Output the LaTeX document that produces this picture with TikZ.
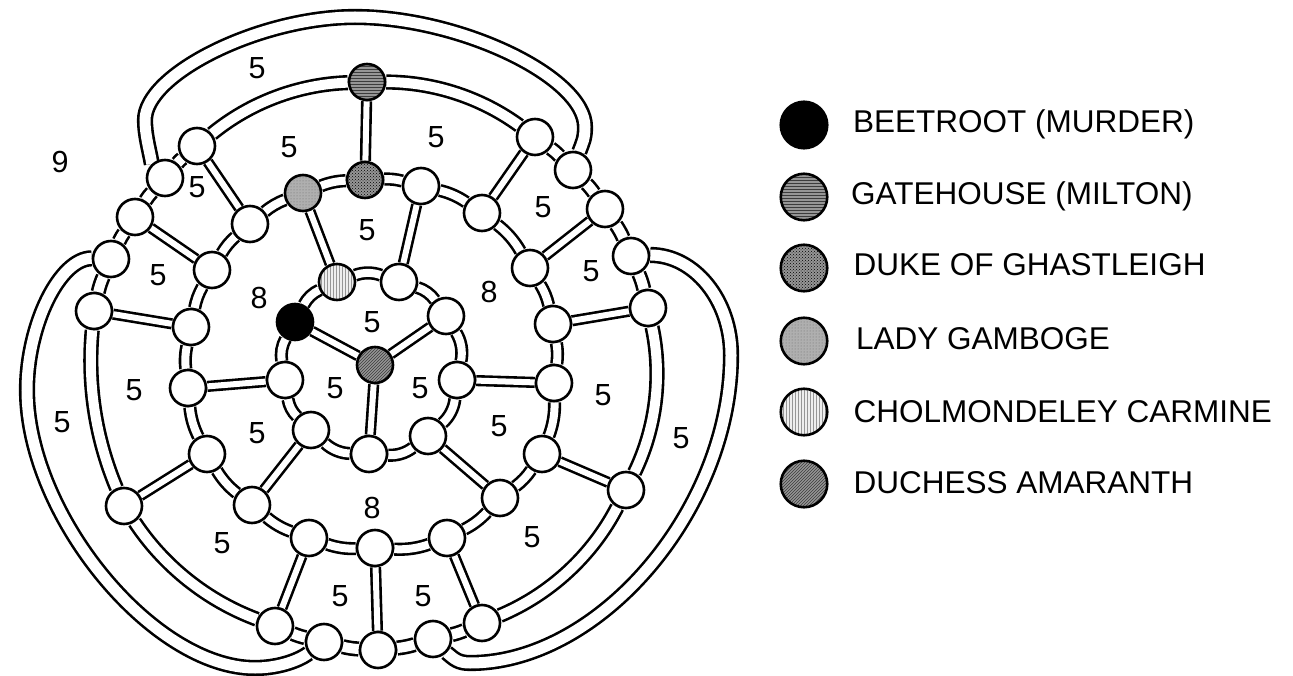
\documentclass[tikz,border=0pt]{standalone}
\usepackage{fontspec}
\setmainfont{Liberation Sans}
\usetikzlibrary{backgrounds,patterns}
\definecolor{cGate}{RGB}{150,150,150}
\definecolor{cGateL}{RGB}{60,60,60}
\definecolor{cDuke}{RGB}{150,150,150}
\definecolor{cLady}{RGB}{175,175,175}
\definecolor{cLadyL}{RGB}{110,110,110}
\definecolor{cChol}{RGB}{238,238,238}
\definecolor{cCholL}{RGB}{150,150,150}
\definecolor{cDuch}{RGB}{150,150,150}
\definecolor{cDuchL}{RGB}{60,60,60}
\begin{document}
\begin{tikzpicture}[x=1pt,y=1pt,
  vb/.style={circle,draw=black,line width=2.6pt,minimum size=36pt,inner sep=0pt},
  v/.style={vb,fill=white},
  lgb/.style={circle,draw=black,line width=2.6pt,minimum size=46.5pt,inner sep=0pt},
  gatef/.style={preaction={fill=cGate},pattern=horizontal lines,pattern color=cGateL},
  dukef/.style={preaction={fill=cDuke},pattern=crosshatch dots,pattern color=black},
  ladyf/.style={preaction={fill=cLady},pattern=dots,pattern color=cLadyL},
  cholf/.style={preaction={fill=cChol},pattern=vertical lines,pattern color=cCholL},
  duchf/.style={preaction={fill=cDuch},pattern=north east lines,pattern color=cDuchL},
  sp/.style={draw=black,line width=2.6pt,double=white,double distance=6pt},
  rg/.style={draw=black,line width=2.6pt,double=white,double distance=8pt,looseness=0.87},
  og/.style={draw=black,line width=2.6pt,double=white,double distance=10pt,looseness=0.87},
  lobe/.style={draw=black,line width=2.6pt,double=white,double distance=11pt},
  num/.style={font=\fontsize{30.5}{32}\selectfont,inner sep=0pt},
  leg/.style={font=\fontsize{31.5}{34}\selectfont,inner sep=0pt,anchor=base west}
]
\useasboundingbox (0,0) rectangle (1293,-676);
% outer ring nodes
\node[vb,gatef] (gate) at (367,-82) {};
\node[v] (o538) at (535,-137) {};
\node[v] (o572) at (573,-170) {};
\node[v] (o604) at (605,-209) {};
\node[v] (o630) at (631,-256) {};
\node[v] (o660) at (648,-308) {};
\node[v] (o623) at (626,-490) {};
\node[v] (o483) at (482,-623) {};
\node[v] (o435) at (433,-639) {};
\node[v] (o378) at (378,-650) {};
\node[v] (o326) at (324,-642) {};
\node[v] (o277) at (275,-626) {};
\node[v] (o130) at (124,-506) {};
\node[v] (o89) at (94,-311) {};
\node[v] (o111) at (111,-259) {};
\node[v] (o135) at (135,-217) {};
\node[v] (o163) at (165,-178) {};
\node[v] (o199) at (197,-146) {};
% middle ring nodes
\node[vb,dukef] (duke) at (365,-180) {};
\node[v] (m420) at (421,-186) {};
\node[v] (m484) at (482,-213) {};
\node[v] (m530) at (530,-268) {};
\node[v] (m553) at (553,-324) {};
\node[v] (m552) at (554,-383) {};
\node[v] (m543) at (542,-454) {};
\node[v] (m499) at (500,-498) {};
\node[v] (m445) at (447,-538) {};
\node[v] (m374) at (375,-548) {};
\node[v] (m310) at (309,-538) {};
\node[v] (m252) at (252,-505) {};
\node[v] (m207) at (207,-454) {};
\node[v] (m188) at (188,-388) {};
\node[v] (m191) at (191,-327) {};
\node[v] (m212) at (212,-270) {};
\node[v] (m250) at (250,-224) {};
\node[vb,ladyf] (lady) at (303,-193) {};
% inner ring nodes
\node[v,fill=black] (beet) at (295,-322) {};
\node[vb,cholf] (chol) at (337,-282) {};
\node[v] (i401) at (399,-282) {};
\node[v] (i447) at (446,-316) {};
\node[v] (i458) at (457,-380) {};
\node[v] (i428) at (428,-436) {};
\node[v] (i373) at (369,-454) {};
\node[v] (i313) at (311,-430) {};
\node[v] (i283) at (285,-380) {};
\node[vb,duchf] (duch) at (375,-365) {};

\begin{scope}[on background layer]
\fill[white] (0,0) rectangle (1293,-676);
% lobes
\draw[lobe] (o163.133) .. controls +(100:15) and +(-90:15) .. (145,-120)
  .. controls +(90:46) and +(180:95) .. (355,-17)
  .. controls +(0:105) and +(90:50) .. (585,-127)
  .. controls +(-90:12) and +(70:10) .. (o572.71);
\draw[lobe] (o111.178) .. controls +(180:32) and +(90:65) .. (27,-390)
  .. controls +(-90:125) and +(180:102) .. (255,-668)
  .. controls +(0:20) and +(216:15) .. (o326.216);
\draw[lobe] (o630.3) .. controls +(0:44) and +(90:55) .. (731,-355)
  .. controls +(-90:154) and +(0:130) .. (470,-663)
  .. controls +(180:12) and +(-40:10) .. (o435.-45);
% outer ring
\draw[og] (gate) to[bend left=18] (o538);
\draw[og] (o538) to[bend left=5] (o572);
\draw[og] (o572) to[bend left=5] (o604);
\draw[og] (o604) to[bend left=5.5] (o630);
\draw[og] (o630) to[bend left=5.5] (o660);
\draw[og] (o660) to[bend left=19] (o623);
\draw[og] (o623) to[bend left=20] (o483);
\draw[og] (o483) to[bend left=5] (o435);
\draw[og] (o435) to[bend left=5.5] (o378);
\draw[og] (o378) to[bend left=5.5] (o326);
\draw[og] (o326) to[bend left=5] (o277);
\draw[og] (o277) to[bend left=18] (o130);
\draw[og] (o130) to[bend left=14] (o89);
\draw[og] (o89) to[bend left=5.5] (o111);
\draw[og] (o111) to[bend left=5] (o135);
\draw[og] (o135) to[bend left=5] (o163);
\draw[og] (o163) to[bend left=5] (o199);
\draw[og] (o199) to[bend left=18.7] (gate);
% middle ring
\draw[rg] (duke) to[bend left=8.8] (m420);
\draw[rg] (m420) to[bend left=10.4] (m484);
\draw[rg] (m484) to[bend left=11.4] (m530);
\draw[rg] (m530) to[bend left=9.4] (m553);
\draw[rg] (m553) to[bend left=9.2] (m552);
\draw[rg] (m552) to[bend left=11.2] (m543);
\draw[rg] (m543) to[bend left=9.5] (m499);
\draw[rg] (m499) to[bend left=10.3] (m445);
\draw[rg] (m445) to[bend left=11.3] (m374);
\draw[rg] (m374) to[bend left=10.4] (m310);
\draw[rg] (m310) to[bend left=10.3] (m252);
\draw[rg] (m252) to[bend left=10.6] (m207);
\draw[rg] (m207) to[bend left=10.7] (m188);
\draw[rg] (m188) to[bend left=9.5] (m191);
\draw[rg] (m191) to[bend left=9.4] (m212);
\draw[rg] (m212) to[bend left=9.3] (m250);
\draw[rg] (m250) to[bend left=9.5] (lady);
\draw[rg] (lady) to[bend left=9.8] (duke);
% inner ring
\draw[rg] (chol) to[bend left=20.6] (i401);
\draw[rg] (i401) to[bend left=19.2] (i447);
\draw[rg] (i447) to[bend left=21.7] (i458);
\draw[rg] (i458) to[bend left=21] (i428);
\draw[rg] (i428) to[bend left=20.5] (i373);
\draw[rg] (i373) to[bend left=20.9] (i313);
\draw[rg] (i313) to[bend left=18.7] (i283);
\draw[rg] (i283) to[bend left=19.5] (beet);
\draw[rg] (beet) to[bend left=19.2] (chol);
% spokes
\draw[sp] (gate) -- (duke);
\draw[sp] (o199) -- (m250);
\draw[sp] (o538) -- (m484);
\draw[sp] (o135) -- (m212);
\draw[sp] (o604) -- (m530);
\draw[sp] (o89) -- (m191);
\draw[sp] (o660) -- (m553);
\draw[sp] (o130) -- (m207);
\draw[sp] (o623) -- (m543);
\draw[sp] (o277) -- (m310);
\draw[sp] (o378) -- (m374);
\draw[sp] (o483) -- (m445);
\draw[sp] (lady) -- (chol);
\draw[sp] (m420) -- (i401);
\draw[sp] (m188) -- (i283);
\draw[sp] (m552) -- (i458);
\draw[sp] (m252) -- (i313);
\draw[sp] (m499) -- (i428);
\draw[sp] (beet) -- (duch);
\draw[sp] (i447) -- (duch);
\draw[sp] (duch) -- (i373);
\end{scope}

% face labels
\node[num] (f9) at (60,-162) {9};
\node[num] (f1) at (257,-68) {5};
\node[num] (f2) at (289,-147) {5};
\node[num] (f3) at (436,-137) {5};
\node[num] (f4) at (197,-187) {5};
\node[num] (f5) at (367,-230) {5};
\node[num] (f6) at (543,-207) {5};
\node[num] (f7) at (158,-275) {5};
\node[num] (f8) at (259,-298) {8};
\node[num] (f10) at (591,-271) {5};
\node[num] (f11) at (489,-292) {8};
\node[num] (f12) at (372,-322) {5};
\node[num] (f13) at (134,-390) {5};
\node[num] (f14) at (603,-395) {5};
\node[num] (f15) at (62,-422) {5};
\node[num] (f16) at (681,-438) {5};
\node[num] (f17) at (257,-433) {5};
\node[num] (f18) at (335,-388) {5};
\node[num] (f19) at (420,-388) {5};
\node[num] (f20) at (499,-426) {5};
\node[num] (f21) at (372,-508) {8};
\node[num] (f22) at (222,-543) {5};
\node[num] (f23) at (532,-537) {5};
\node[num] (f24) at (340,-596) {5};
\node[num] (f25) at (423,-596) {5};

% legend
\node[lgb,fill=black] (lb) at (804,-125) {};
\node[lgb,gatef] (lgt) at (804,-197) {};
\node[lgb,dukef] (ld) at (804,-268) {};
\node[lgb,ladyf] (ll) at (804,-341) {};
\node[lgb,cholf] (lc) at (804,-412) {};
\node[lgb,duchf] (lda) at (804,-484) {};
\node[leg] (tb) at (853,-133) {BEETROOT (MURDER)};
\node[leg] (tg) at (851,-205) {GATEHOUSE (MILTON)};
\node[leg] (td) at (853.5,-276) {DUKE OF GHASTLEIGH};
\node[leg] (tl) at (856,-349) {LADY GAMBOGE};
\node[leg] (tc) at (853.5,-422) {CHOLMONDELEY CARMINE};
\node[leg] (tda) at (853.5,-493) {DUCHESS AMARANTH};
\end{tikzpicture}
\end{document}
